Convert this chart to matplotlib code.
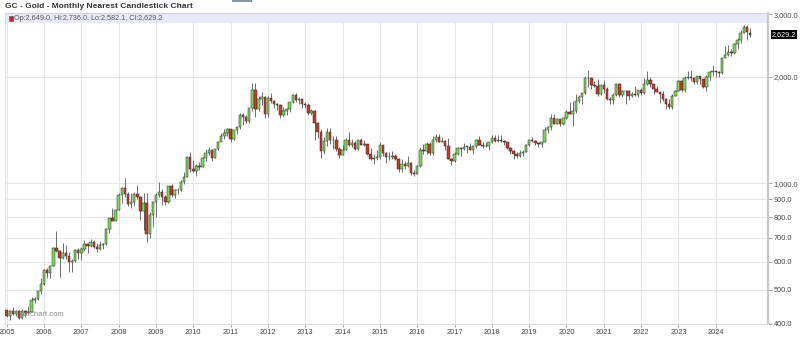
import matplotlib
matplotlib.use("Agg")
import matplotlib.pyplot as plt
from matplotlib.patches import Rectangle
import numpy as np

plt.rcParams['font.family'] = ['Liberation Sans', 'DejaVu Sans']

# Monthly OHLC, GC nearest, Jan 2005 .. Dec 2024 (one row per year)
opens = [
    438, 422, 434, 428, 435, 417, 436, 429, 433, 469, 470, 495,
    518, 569, 556, 583, 654, 644, 616, 634, 624, 599, 604, 648,
    635, 652, 672, 664, 680, 661, 652, 667, 673, 743, 795, 783,
    838, 924, 972, 934, 872, 887, 930, 913, 833, 881, 717, 815,
    883, 928, 942, 916, 884, 979, 927, 954, 955, 1008, 1040, 1182,
    1096, 1083, 1118, 1113, 1180, 1213, 1244, 1181, 1248, 1308, 1357, 1386,
    1421, 1333, 1409, 1439, 1556, 1536, 1500, 1628, 1829, 1620, 1725, 1746,
    1566, 1740, 1711, 1669, 1664, 1561, 1604, 1622, 1692, 1776, 1719, 1726,
    1675, 1663, 1578, 1596, 1476, 1393, 1234, 1312, 1395, 1327, 1323, 1250,
    1202, 1240, 1321, 1284, 1296, 1246, 1322, 1282, 1287, 1210, 1171, 1175,
    1184, 1279, 1213, 1183, 1184, 1190, 1172, 1095, 1132, 1115, 1142, 1065,
    1060, 1116, 1238, 1234, 1293, 1215, 1322, 1351, 1311, 1316, 1272, 1173,
    1152, 1211, 1253, 1249, 1268, 1268, 1242, 1270, 1321, 1283, 1271, 1277,
    1309, 1345, 1318, 1327, 1316, 1305, 1254, 1233, 1206, 1196, 1215, 1226,
    1283, 1325, 1316, 1298, 1286, 1310, 1413, 1437, 1529, 1472, 1514, 1473,
    1523, 1588, 1566, 1597, 1701, 1751, 1800, 1986, 1978, 1896, 1880, 1781,
    1895, 1850, 1729, 1716, 1769, 1907, 1771, 1817, 1819, 1758, 1784, 1776,
    1829, 1796, 1909, 1954, 1911, 1849, 1807, 1782, 1726, 1672, 1640, 1760,
    1826, 1945, 1837, 1986, 1999, 1982, 1929, 2009, 1966, 1866, 1997, 2057,
    2072, 2067, 2054, 2254, 2302, 2346, 2339, 2473, 2538, 2660, 2756, 2649.0,
]
highs = [
    438, 438, 446, 438, 437, 442, 438, 449, 477, 478, 497, 541,
    571, 576, 586, 660, 732, 648, 679, 667, 640, 610, 651, 656,
    659, 690, 673, 695, 690, 676, 685, 678, 749, 796, 848, 840,
    935, 978, 1033, 943, 935, 944, 989, 917, 935, 940, 828, 890,
    935, 1007, 960, 927, 983, 992, 961, 966, 1024, 1072, 1195, 1227,
    1162, 1129, 1144, 1186, 1249, 1266, 1248, 1251, 1314, 1388, 1424, 1432,
    1424, 1412, 1448, 1577, 1578, 1561, 1632, 1917, 1923, 1761, 1804, 1764,
    1764, 1792, 1720, 1681, 1670, 1641, 1631, 1692, 1790, 1798, 1756, 1727,
    1697, 1683, 1617, 1605, 1488, 1425, 1348, 1434, 1434, 1361, 1362, 1267,
    1279, 1345, 1392, 1331, 1315, 1326, 1345, 1324, 1290, 1256, 1206, 1240,
    1308, 1284, 1224, 1225, 1233, 1205, 1178, 1170, 1157, 1192, 1146, 1089,
    1127, 1263, 1287, 1304, 1306, 1362, 1377, 1375, 1352, 1327, 1338, 1180,
    1222, 1264, 1264, 1297, 1273, 1296, 1275, 1331, 1362, 1306, 1299, 1310,
    1367, 1366, 1365, 1369, 1326, 1309, 1266, 1237, 1221, 1243, 1240, 1286,
    1327, 1349, 1323, 1310, 1310, 1442, 1453, 1566, 1567, 1524, 1518, 1525,
    1611, 1691, 1704, 1788, 1775, 1803, 2005, 2089, 2001, 1939, 1966, 1908,
    1962, 1875, 1755, 1798, 1917, 1919, 1836, 1834, 1836, 1814, 1877, 1833,
    1854, 1976, 2079, 1998, 1911, 1880, 1814, 1826, 1735, 1734, 1786, 1837,
    1950, 1959, 2003, 2068, 2085, 1983, 2011, 2009, 1966, 2022, 2077, 2152,
    2090, 2071, 2256, 2448, 2454, 2388, 2484, 2570, 2708, 2801, 2790, 2736.0,
]
lows = [
    418, 411, 424, 421, 414, 414, 418, 428, 432, 460, 468, 487,
    517, 540, 540, 582, 640, 543, 609, 610, 560, 562, 600, 609,
    606, 645, 636, 661, 654, 640, 647, 651, 670, 725, 780, 782,
    838, 880, 913, 862, 850, 861, 904, 785, 735, 681, 700, 752,
    801, 914, 866, 865, 880, 913, 905, 930, 951, 995, 1040, 1075,
    1075, 1045, 1087, 1112, 1158, 1198, 1157, 1175, 1240, 1315, 1329, 1360,
    1309, 1324, 1380, 1418, 1462, 1478, 1481, 1603, 1534, 1604, 1668, 1523,
    1540, 1688, 1627, 1614, 1527, 1547, 1557, 1584, 1685, 1697, 1672, 1635,
    1626, 1555, 1560, 1321, 1339, 1180, 1208, 1271, 1292, 1251, 1231, 1180,
    1202, 1238, 1277, 1268, 1240, 1240, 1280, 1272, 1204, 1160, 1131, 1166,
    1167, 1191, 1141, 1166, 1170, 1162, 1072, 1077, 1099, 1112, 1053, 1046,
    1062, 1111, 1208, 1208, 1199, 1200, 1310, 1303, 1305, 1241, 1171, 1124,
    1146, 1200, 1194, 1244, 1214, 1237, 1205, 1258, 1280, 1260, 1264, 1238,
    1302, 1307, 1303, 1310, 1282, 1246, 1211, 1167, 1180, 1182, 1196, 1221,
    1276, 1310, 1281, 1266, 1266, 1305, 1386, 1412, 1465, 1466, 1446, 1459,
    1517, 1563, 1451, 1576, 1682, 1676, 1781, 1874, 1849, 1873, 1764, 1776,
    1803, 1717, 1673, 1678, 1767, 1750, 1751, 1677, 1721, 1746, 1760, 1753,
    1780, 1781, 1891, 1872, 1786, 1805, 1681, 1711, 1622, 1618, 1617, 1763,
    1823, 1810, 1805, 1970, 1941, 1900, 1903, 1904, 1858, 1823, 1953, 2010,
    2001, 1996, 2040, 2254, 2285, 2286, 2318, 2393, 2490, 2655, 2541, 2582.1,
]
closes = [
    422, 434, 428, 435, 417, 436, 429, 433, 469, 470, 495, 518,
    569, 556, 583, 654, 644, 616, 634, 624, 599, 604, 648, 635,
    652, 672, 664, 680, 661, 652, 667, 673, 743, 795, 783, 838,
    924, 972, 934, 872, 887, 930, 913, 833, 881, 717, 815, 883,
    928, 942, 916, 884, 979, 927, 954, 955, 1008, 1040, 1182, 1096,
    1083, 1118, 1113, 1180, 1213, 1244, 1181, 1248, 1308, 1357, 1386, 1421,
    1333, 1409, 1439, 1556, 1536, 1500, 1628, 1829, 1620, 1725, 1746, 1566,
    1740, 1711, 1669, 1664, 1561, 1604, 1622, 1692, 1776, 1719, 1726, 1675,
    1663, 1578, 1596, 1476, 1393, 1234, 1312, 1395, 1327, 1323, 1250, 1202,
    1240, 1321, 1284, 1296, 1246, 1322, 1282, 1287, 1210, 1171, 1175, 1184,
    1279, 1213, 1183, 1184, 1190, 1172, 1095, 1132, 1115, 1142, 1065, 1060,
    1116, 1238, 1234, 1293, 1215, 1322, 1351, 1311, 1316, 1272, 1173, 1152,
    1211, 1253, 1249, 1268, 1268, 1242, 1270, 1321, 1283, 1271, 1277, 1309,
    1345, 1318, 1327, 1316, 1305, 1254, 1233, 1206, 1196, 1215, 1226, 1283,
    1325, 1316, 1298, 1286, 1310, 1413, 1437, 1529, 1472, 1514, 1473, 1523,
    1588, 1566, 1597, 1701, 1751, 1800, 1986, 1978, 1896, 1880, 1781, 1895,
    1850, 1729, 1716, 1769, 1907, 1771, 1817, 1819, 1758, 1784, 1776, 1829,
    1796, 1909, 1954, 1911, 1849, 1807, 1782, 1726, 1672, 1640, 1760, 1826,
    1945, 1837, 1986, 1999, 1982, 1929, 2009, 1966, 1866, 1997, 2057, 2072,
    2067, 2054, 2254, 2302, 2346, 2339, 2473, 2538, 2660, 2756, 2680, 2629.2,
]

start_year = 2005
years = list(range(2005, 2025))
price_ticks = [400, 500, 600, 700, 800, 900, 1000, 2000, 3000]

o = np.array(opens, float)
h = np.array(highs, float)
l = np.array(lows, float)
c = np.array(closes, float)
t = start_year + np.arange(len(o)) / 12.0

up_col = '#7cd85a'
dn_col = '#c43c2c'

fig = plt.figure(figsize=(8, 3.37), dpi=100)
fig.patch.set_facecolor('white')
ax = fig.add_axes([5 / 800, 13 / 337, 763 / 800, 311 / 337])

# watermark sits under the candles
fig.text(20 / 800, 1 - 315 / 337, 'barchart.com', fontsize=5.5, color='#888888',
         va='center', ha='left', zorder=0)

ax.set_yscale('log')
ax.set_xlim(2004.955, 2025.40)
ax.set_ylim(400, 3025)
ax.patch.set_alpha(0)

# wicks and bodies
ax.vlines(t, l, h, color='#555555', lw=0.6, zorder=3)
colors = [up_col if cc >= oo else dn_col for oo, cc in zip(o, c)]
bottoms = np.minimum(o, c)
heights = np.maximum(np.abs(c - o), 1.5)
ax.bar(t, heights, bottom=bottoms, width=0.066, color=colors,
       edgecolor='#2a2a2a', linewidth=0.35, zorder=4)

# grid
for yr in years:
    ax.axvline(yr, color='#e4e4e4', lw=0.7, zorder=1)
for p in price_ticks:
    ax.axhline(p, color='#e4e4e4', lw=0.7, zorder=1)

ax.set_xticks(years)
ax.set_xticklabels([str(y) for y in years])
ax.set_yticks(price_ticks)
ax.set_yticklabels([f'{p:,.1f}' for p in price_ticks])
ax.yaxis.set_minor_locator(matplotlib.ticker.NullLocator())
ax.yaxis.tick_right()
ax.tick_params(axis='y', which='both', length=3, width=0.6, color='#999999',
               labelsize=5.3, labelcolor='#444444', pad=1)
ax.tick_params(axis='x', length=2, width=0.6, color='#999999',
               labelsize=5.3, labelcolor='#444444', pad=1.5)

for side in ['top', 'left', 'bottom']:
    ax.spines[side].set_color('#dddddd')
    ax.spines[side].set_linewidth(0.7)
ax.spines['right'].set_color('#c8c8c8')
ax.spines['right'].set_linewidth(1.6)

# legend band across the top of the plot
band_h = 10 / 311
ax.add_patch(Rectangle((0, 1 - band_h), 1, band_h, transform=ax.transAxes,
                       facecolor='#e9e9fa', edgecolor='none', zorder=2))
ax.plot([0, 1], [1, 1], transform=ax.transAxes, color='#cfcfe6', lw=0.8, zorder=5,
        clip_on=False)
fig.patches.append(Rectangle((9 / 800, 1 - 20.5 / 337), 4 / 800, 4.5 / 337,
                             transform=fig.transFigure, facecolor='#b8282a',
                             edgecolor='#555555', linewidth=0.4))
fig.text(14 / 800, 1 - 18.3 / 337,
         f'Op:{opens[-1]:,.1f}, Hi:{highs[-1]:,.1f}, Lo:{lows[-1]:,.1f}, Cl:{closes[-1]:,.1f}',
         fontsize=5.2, color='#555555', va='center', ha='left')

# title
fig.text(5 / 800, 1 - 6.3 / 337, 'GC - Gold - Monthly Nearest Candlestick Chart',
         fontsize=6.0, fontweight='bold', color='#333333', va='center', ha='left')
fig.patches.append(Rectangle((232 / 800, 1 - 1.5 / 337), 20 / 800, 1.5 / 337,
                             transform=fig.transFigure, facecolor='#8c94ad',
                             edgecolor='none'))

# last price label
fig.text(772 / 800, 1 - 34.5 / 337, f'{closes[-1]:,.1f}', fontsize=5.2, color='white',
         va='center', ha='left',
         bbox=dict(boxstyle='square,pad=0.15', facecolor='black', edgecolor='none'))

fig.savefig('out.png', dpi=100, facecolor='white')
